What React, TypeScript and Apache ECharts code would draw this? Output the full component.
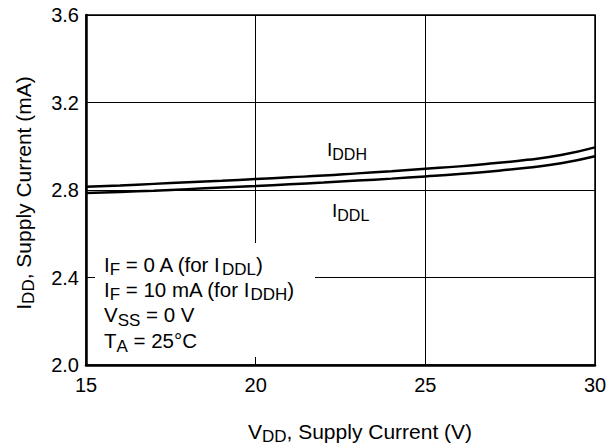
import React, { useEffect, useRef } from "react";
import * as echarts from "echarts";

const vdd = [15, 16, 17, 18, 19, 20, 21, 22, 23, 24, 25, 26, 27, 28, 29, 30];
const iddh = [2.815, 2.821, 2.828, 2.835, 2.842, 2.85, 2.858, 2.866, 2.876, 2.886, 2.897, 2.908, 2.922, 2.938, 2.96, 2.995];
const iddl = [2.786, 2.791, 2.797, 2.804, 2.811, 2.818, 2.826, 2.834, 2.843, 2.852, 2.862, 2.873, 2.886, 2.902, 2.922, 2.954];
const xTicks = { min: 15, max: 30, interval: 5 };
const yTicks = { min: 2.0, max: 3.6, interval: 0.4 };

const FONT = "'Liberation Sans', Arial, sans-serif";
function mkRich(main: number, sub: number, drop: number) {
  return {
    n: { fontSize: main, fontFamily: FONT, color: "#000" },
    s: { fontSize: sub, fontFamily: FONT, color: "#000", padding: [drop, 0, 0, 0] },
  };
}
const richNote = mkRich(20.5, 17, 11);
const richLbl = mkRich(19, 16, 10);
const richTitle = mkRich(21, 17, 11);

function txt(text: string, x: number, y: number, rich: any, extra: any = {}) {
  return {
    type: "text",
    x,
    y,
    z: 10,
    style: { text, rich, fontFamily: FONT, fill: "#000", verticalAlign: "middle", ...extra },
  };
}

export default function App() {
  const ref = useRef<HTMLDivElement>(null);
  useEffect(() => {
    const chart = echarts.init(ref.current!, null, { renderer: "svg" });
    chart.setOption({
      animation: false,
      backgroundColor: "#fff",
      grid: { left: 86, right: 21, top: 15, bottom: 82, show: true, borderColor: "#000", borderWidth: 1.5 },
      xAxis: {
        type: "value",
        ...xTicks,
        axisLine: { show: true, lineStyle: { color: "#000", width: 2.5 } },
        axisTick: { show: false },
        splitLine: { show: true, lineStyle: { color: "#000", width: 1 } },
        axisLabel: { color: "#000", fontSize: 20, fontFamily: FONT, margin: 10 },
      },
      yAxis: {
        type: "value",
        ...yTicks,
        axisLine: { show: true, lineStyle: { color: "#000", width: 2.5 } },
        axisTick: { show: false },
        splitLine: { show: true, lineStyle: { color: "#000", width: 1 } },
        axisLabel: { color: "#000", fontSize: 20, fontFamily: FONT, margin: 7, formatter: (v: number) => v.toFixed(1) },
      },
      series: [
        {
          type: "line",
          data: vdd.map((x, i) => [x, iddh[i]]),
          smooth: true,
          showSymbol: false,
          lineStyle: { color: "#000", width: 2.5 },
        },
        {
          type: "line",
          data: vdd.map((x, i) => [x, iddl[i]]),
          smooth: true,
          showSymbol: false,
          lineStyle: { color: "#000", width: 2.5 },
        },
      ],
      graphic: [
        { type: "rect", z: 1, shape: { x: 95, y: 243, width: 220, height: 114 }, style: { fill: "#fff" } },
        txt("{n|I}{s|DDH}", 327, 149, richLbl),
        txt("{n|I}{s|DDL}", 332, 210, richLbl),
        txt("{n|I}{s|F}{n| = 0 A (for I}{s|DDL}{n|)}", 104, 264, richNote),
        txt("{n|I}{s|F}{n| = 10 mA (for I}{s|DDH}{n|)}", 104, 289, richNote),
        txt("{n|V}{s|SS}{n| = 0 V}", 104, 314.5, richNote),
        txt("{n|T}{s|A}{n| = 25°C}", 104, 340.5, richNote),
        txt("{n|V}{s|DD}{n|, Supply Current (V)}", 360, 431, richTitle, { align: "center" }),
        {
          type: "text",
          x: 23,
          y: 193,
          rotation: Math.PI / 2,
          z: 10,
          style: { text: "{n|I}{s|DD}{n|, Supply Current (mA)}", rich: richTitle, fontFamily: FONT, fill: "#000", align: "center", verticalAlign: "middle" },
        },
      ],
    });
    return () => chart.dispose();
  }, []);
  return <div ref={ref} style={{ width: 616, height: 447, position: "absolute", left: 0, top: 0 }} />;
}
